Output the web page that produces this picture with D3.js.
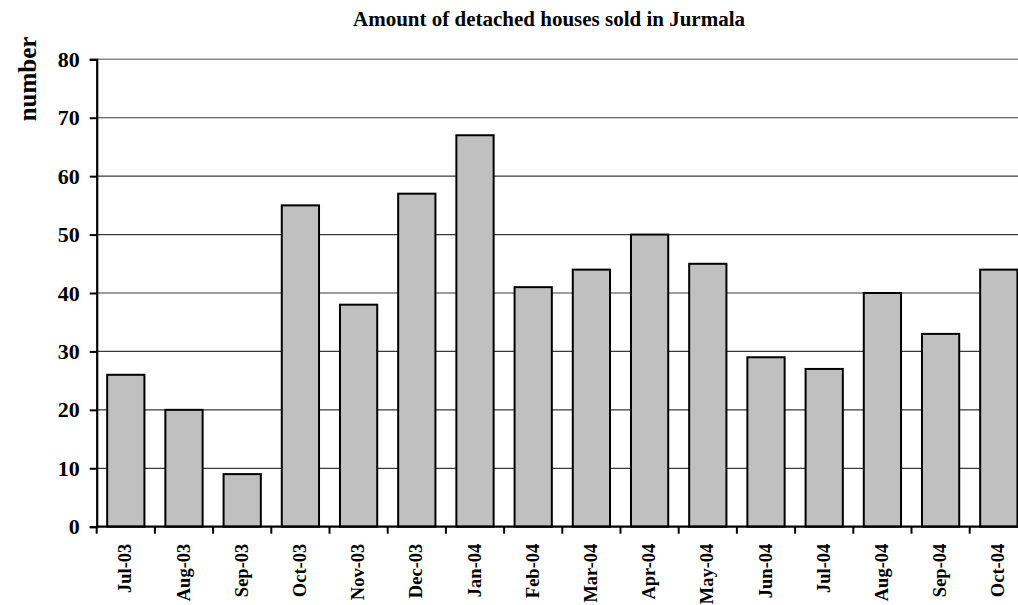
<!DOCTYPE html>
<html>
<head>
<meta charset="utf-8">
<script src="https://cdn.jsdelivr.net/npm/d3@7"></script>
<style>
  html, body { margin: 0; padding: 0; background: #fff; }
  svg { display: block; font-family: "Liberation Serif", "Times New Roman", serif; font-weight: bold; }
</style>
</head>
<body>
<div id="chart"></div>
<script>
// Monthly sales of detached houses
const months = ["Jul-03", "Aug-03", "Sep-03", "Oct-03", "Nov-03", "Dec-03", "Jan-04", "Feb-04",
                "Mar-04", "Apr-04", "May-04", "Jun-04", "Jul-04", "Aug-04", "Sep-04", "Oct-04"];
const sold = [26, 20, 9, 55, 38, 57, 67, 41, 44, 50, 45, 29, 27, 40, 33, 44];
const yTicks = [0, 10, 20, 30, 40, 50, 60, 70, 80];

const width = 1018, height = 605;
const plot = { left: 96.7, top: 59.3, bottom: 526.7 };
const band = 58.2;

const svg = d3.select("#chart").append("svg")
  .attr("width", width).attr("height", height);

const x = d3.scaleBand()
  .domain(months)
  .range([plot.left, plot.left + band * months.length])
  .paddingInner(0.36).paddingOuter(0.18);

const y = d3.scaleLinear().domain([0, 80]).range([plot.bottom, plot.top]);

// Horizontal gridlines
svg.append("g").selectAll("line")
  .data(yTicks.filter(d => d > 0))
  .join("line")
  .attr("x1", plot.left).attr("x2", width)
  .attr("y1", d => y(d)).attr("y2", d => y(d))
  .attr("stroke", d => d === 80 ? "#8a8a8a" : "#3a3a3a")
  .attr("stroke-width", d => d === 80 ? 1.6 : 1.2);

// Bars
svg.append("g").selectAll("rect")
  .data(sold)
  .join("rect")
  .attr("x", (d, i) => x(months[i]))
  .attr("width", x.bandwidth())
  .attr("y", d => y(d))
  .attr("height", d => y(0) - y(d))
  .attr("fill", "#c0c0c0")
  .attr("stroke", "#000")
  .attr("stroke-width", 2);

// Y axis
const yAxis = d3.axisLeft(y).tickValues(yTicks).tickSize(7).tickPadding(10);
const gy = svg.append("g").attr("transform", `translate(${plot.left},0)`).call(yAxis);
gy.select(".domain").attr("stroke", "#000").attr("stroke-width", 2.2);
gy.selectAll(".tick line").attr("stroke", "#000").attr("stroke-width", 2);
gy.selectAll(".tick text")
  .attr("font-family", "Liberation Serif, serif")
  .attr("font-weight", "bold").attr("font-size", 22).attr("fill", "#000");

// X axis: baseline, ticks between categories, rotated labels
svg.append("line")
  .attr("x1", plot.left).attr("x2", width)
  .attr("y1", plot.bottom).attr("y2", plot.bottom)
  .attr("stroke", "#000").attr("stroke-width", 2.2);

const boundaries = d3.range(months.length).map(i => plot.left + i * band);
svg.append("g").selectAll("line")
  .data(boundaries)
  .join("line")
  .attr("x1", d => d).attr("x2", d => d)
  .attr("y1", plot.bottom).attr("y2", plot.bottom + 7)
  .attr("stroke", "#000").attr("stroke-width", 2);

svg.append("g").selectAll("text")
  .data(months)
  .join("text")
  .attr("transform", d => `translate(${x(d) + x.bandwidth() / 2 + 5.5},${plot.bottom + 17}) rotate(-90)`)
  .attr("text-anchor", "end")
  .attr("font-size", 18.5)
  .attr("fill", "#000")
  .text(d => d);

// Title
svg.append("text")
  .attr("x", 549).attr("y", 26)
  .attr("text-anchor", "middle")
  .attr("font-size", 21)
  .attr("fill", "#000")
  .text("Amount of detached houses sold in Jurmala");

// Y axis title
svg.append("text")
  .attr("transform", "translate(36,79) rotate(-90)")
  .attr("text-anchor", "middle")
  .attr("font-size", 25)
  .attr("fill", "#000")
  .text("number");
</script>
</body>
</html>
